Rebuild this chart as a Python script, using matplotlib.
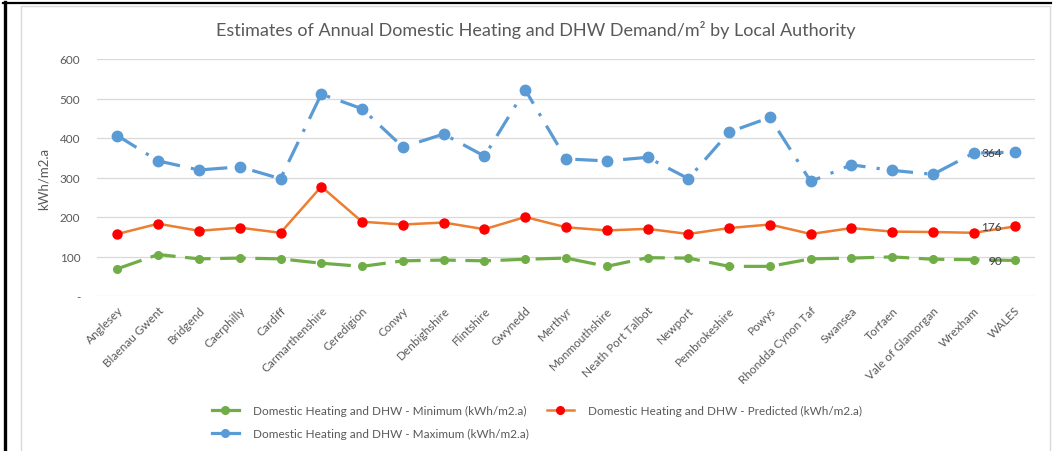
import matplotlib
matplotlib.use("Agg")
import matplotlib.pyplot as plt
from matplotlib.lines import Line2D

authorities = ["Anglesey", "Blaenau Gwent", "Bridgend", "Caerphilly", "Cardiff",
               "Carmarthenshire", "Ceredigion", "Conwy", "Denbighshire", "Flintshire",
               "Gwynedd", "Merthyr", "Monmouthshire", "Neath Port Talbot", "Newport",
               "Pembrokeshire", "Powys", "Rhondda Cynon Taf", "Swansea", "Torfaen",
               "Vale of Glamorgan", "Wrexham", "WALES"]
minimum = [69, 105, 94, 96, 94, 83, 75, 89, 91, 89, 93, 96, 75, 97, 96,
           75, 75, 94, 96, 99, 93, 92, 90]
predicted = [157, 183, 165, 173, 160, 277, 188, 181, 186, 169, 200, 174, 166, 170, 157,
             172, 181, 157, 172, 163, 162, 160, 176]
maximum = [406, 342, 319, 327, 297, 511, 474, 377, 410, 354, 522, 347, 342, 351, 297,
           415, 452, 290, 332, 318, 308, 362, 364]
yticks = [0, 100, 200, 300, 400, 500, 600]
ytick_labels = ["-", "100", "200", "300", "400", "500", "600"]

plt.rcParams["font.family"] = ["Lato", "DejaVu Sans"]
GREY = "#595959"

W, H = 1053, 452
fig = plt.figure(figsize=(W / 100, H / 100), dpi=100)
ax = fig.add_axes([97 / W, 1 - 297 / H, (1035 - 97) / W, (297 - 60) / H])

x = list(range(len(authorities)))
ax.plot(x, minimum, color="#70AD47", lw=2.3, dashes=(8, 3), marker="o", ms=5.5,
        mfc="#70AD47", mec="#70AD47", label="Domestic Heating and DHW - Minimum (kWh/m2.a)")
ax.plot(x, maximum, color="#5B9BD5", lw=2.3, dashes=(7, 3.5, 1, 3.5), marker="o", ms=7.5,
        mfc="#5B9BD5", mec="#5B9BD5", label="Domestic Heating and DHW - Maximum (kWh/m2.a)")
ax.plot(x, predicted, color="#ED7D31", lw=1.8, marker="o", ms=6.5,
        mfc="#FF0000", mec="#FF0000", label="Domestic Heating and DHW - Predicted (kWh/m2.a)")

# data labels on the WALES points
for series in (minimum, predicted, maximum):
    ax.annotate(str(series[-1]), (x[-1], series[-1]), xytext=(-9, 0),
                textcoords="offset points", ha="right", va="center",
                fontsize=8.5, color="#404040")

ax.set_xlim(-0.5, len(authorities) - 0.5)
ax.set_ylim(0, 600)
ax.set_yticks(yticks)
ax.set_yticklabels(ytick_labels)
ax.set_xticks(x)
ax.set_xticklabels(authorities, rotation=45, ha="right", rotation_mode="anchor")
ax.tick_params(axis="both", length=0, colors=GREY, labelsize=8.5)
ax.tick_params(axis="y", pad=12)
ax.tick_params(axis="x", pad=6)
ax.grid(axis="y", color="#D9D9D9", lw=0.9)
ax.set_axisbelow(True)
for s in ax.spines.values():
    s.set_visible(False)
ax.set_ylabel("kWh/m2.a", color=GREY, fontsize=9.5, labelpad=7)

fig.text(536 / W, 1 - 30 / H,
         "Estimates of Annual Domestic Heating and DHW Demand/m² by Local Authority",
         ha="center", va="center", fontsize=13, color=GREY)

h, l = ax.get_legend_handles_labels()
leg = fig.legend(h, l, loc="center", bbox_to_anchor=(537 / W, 1 - 423 / H), ncol=2,
                 frameon=False, fontsize=8.5, labelcolor=GREY, handlelength=2.3,
                 columnspacing=1.5, handletextpad=1.2, labelspacing=1.0,
                 borderpad=0, borderaxespad=0)
for lh in leg.legend_handles:
    lh.set_markersize(5.5)
    lh.set_linestyle("-")

# chart border and outer frame
fig.add_artist(Line2D([21 / W, 21 / W, 1050 / W, 1050 / W], [0, 1 - 7 / H, 1 - 7 / H, 0],
                      transform=fig.transFigure, color="#D9D9D9", lw=1))
fig.add_artist(Line2D([5 / W, 5 / W], [0, 1 - 3 / H], transform=fig.transFigure,
                      color="black", lw=2.4))
fig.add_artist(Line2D([3 / W, 1051 / W], [1 - 4 / H, 1 - 4 / H], transform=fig.transFigure,
                      color="black", lw=1.6))

fig.savefig("out.png", dpi=100)
